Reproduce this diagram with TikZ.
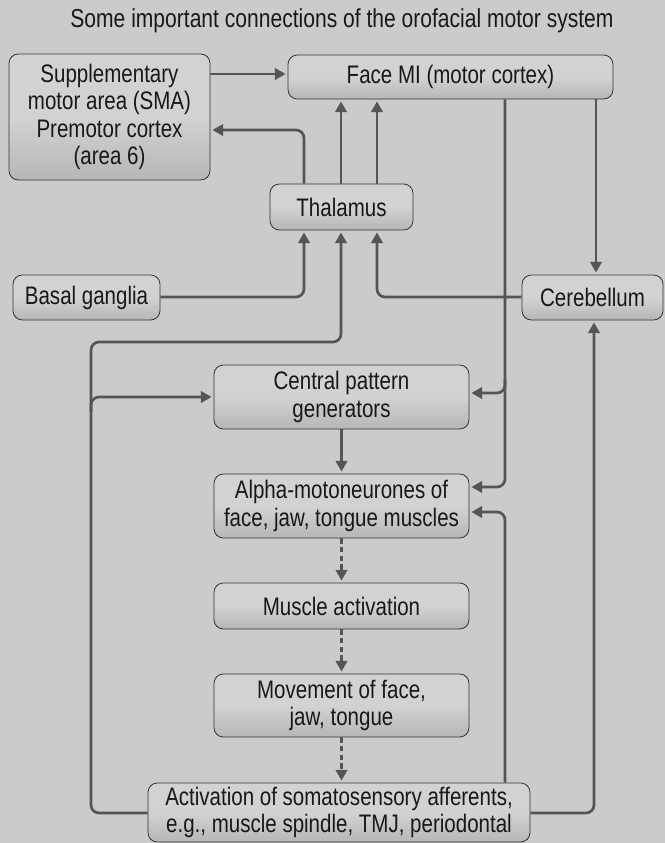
\documentclass[tikz,border=0pt]{standalone}
\usepackage{fontspec}
\setmainfont{Liberation Sans}[FakeStretch=0.81]
\usetikzlibrary{arrows.meta}
\definecolor{bg}{HTML}{CBCBCB}
\definecolor{boxtop}{HTML}{D2D2D2}
\definecolor{boxbot}{HTML}{B6B6B6}
\definecolor{ln}{HTML}{555555}
\definecolor{txt}{HTML}{181818}
\begin{document}
\begin{tikzpicture}[x=0.75pt,y=-0.75pt,
  box/.style={draw=black!80, line width=0.6pt, rounded corners=7pt,
    top color=boxtop, bottom color=boxbot, middle color=boxtop,
    align=center, text=txt, inner sep=0pt, anchor=center,
    font=\fontsize{19}{20.5}\selectfont},
  sz/.style 2 args={minimum width=#1*0.75pt, minimum height=#2*0.75pt},
  conn/.style={draw=ln, line width=2pt, rounded corners=6pt},
  arr/.style={conn, -{Triangle[length=8pt,width=8.5pt]}, shorten >=1.5pt},
  darr/.style={arr, dash pattern=on 4pt off 2.5pt}]
\fill[bg] (0,0) rectangle (665,843);
\useasboundingbox (0,0) rectangle (665,843);

\node[text=txt, font=\fontsize{19.5}{21}\selectfont] (title) at (342,21)
  {Some important connections of the orofacial motor system};

\node[box, sz={201}{126}] (sma) at (109.5,117)
  {Supplementary\\motor area (SMA)\\Premotor cortex\\(area 6)};
\node[box, sz={325}{44}] (face) at (450.5,77) {Face MI (motor cortex)};
\node[box, sz={143}{46}] (thal) at (341.5,207) {Thalamus};
\node[box, sz={147}{45}] (bg) at (86.5,297.5) {Basal ganglia};
\node[box, sz={141}{45}] (cereb) at (592.5,297.5) {Cerebellum};
\node[box, sz={255}{64}] (cpg) at (341.5,397) {Central pattern\\generators};
\node[box, sz={255}{64}] (alpha) at (341.5,506)
  {Alpha-motoneurones of\\face, jaw, tongue muscles};
\node[box, sz={255}{46}] (musc) at (341.5,606) {Muscle activation};
\node[box, sz={255}{63}] (move) at (341.5,705.5) {Movement of face,\\jaw, tongue};
\node[box, sz={382}{59}] (act) at (339,812.5)
  {Activation of somatosensory afferents,\\e.g., muscle spindle, TMJ, periodontal};

\coordinate (br1) at (505,378);
\coordinate (lc) at (91,342);
\coordinate (br2) at (91,412);

% cortex connections
\draw[arr] (sma.east |- 0,74) -- (face.west |- 0,74);
\draw[arr] (thal.north -| 304,0) |- (sma.east |- 0,130);
\draw[arr] (thal.north -| 341,0) -- (face.south -| 341,0);
\draw[arr] (thal.north -| 377,0) -- (face.south -| 377,0);
\draw[arr] (face.south -| 505,0) |- (alpha.east |- 0,487);
\draw[arr] (br1) |- (cpg.east |- 0,393);
\draw[arr] (face.south -| 596,0) -- (cereb.north -| 596,0);

% into thalamus
\draw[arr] (bg.east |- 0,297) -| (thal.south -| 304,0);
\draw[arr] (cereb.west |- 0,297) -| (thal.south -| 377,0);
\draw[arr] (act.west |- 0,813) -- (91,813) -- (lc) -| (thal.south -| 341,0);
\draw[arr] (br2) |- (cpg.west |- 0,397);

% feedback
\draw[arr] (act.east |- 0,813) -| (cereb.south -| 594,0);
\draw[arr] (act.north -| 505,0) |- (alpha.east |- 0,512);

% chain
\draw[arr] (cpg.south) -- (alpha.north);
\draw[darr] (alpha.south) -- (musc.north);
\draw[darr] (musc.south) -- (move.north);
\draw[darr] (move.south) -- (act.north -| move.south);
\end{tikzpicture}
\end{document}
